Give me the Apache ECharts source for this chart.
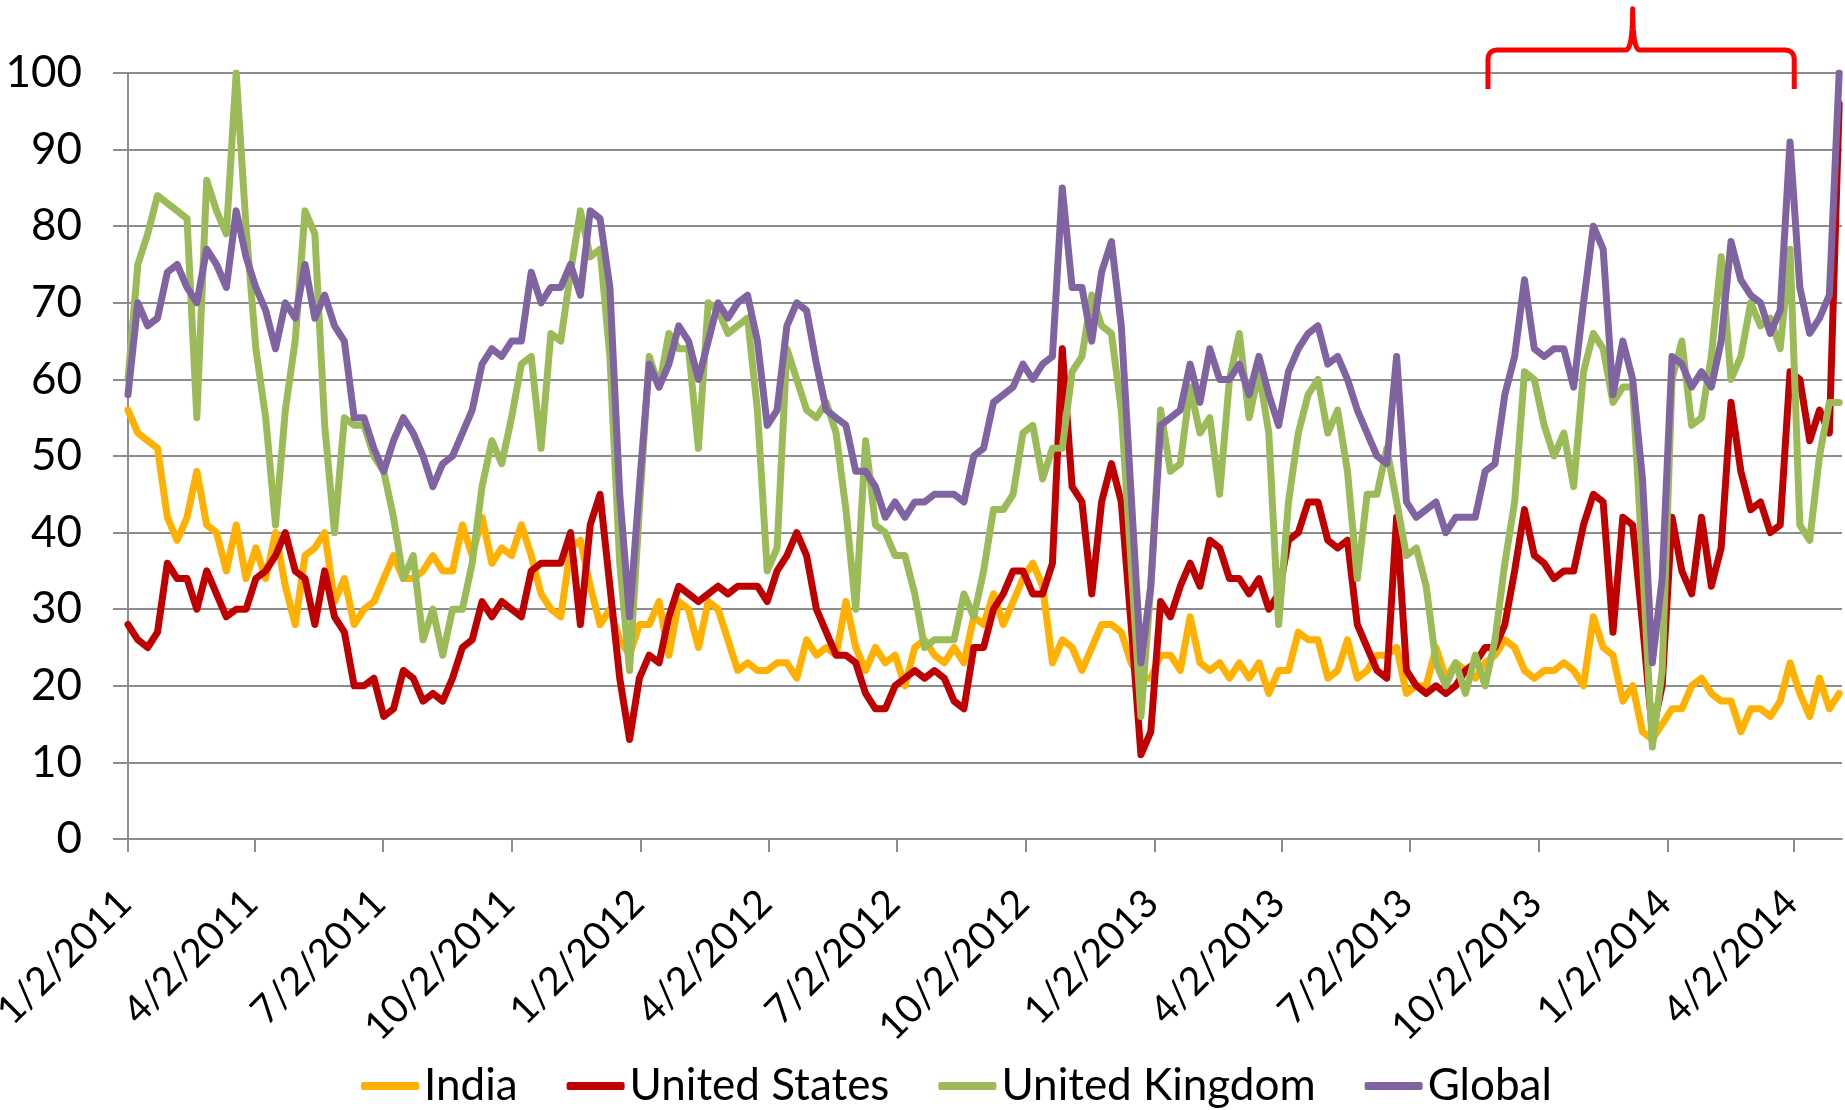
<!DOCTYPE html>
<html>
<head>
<meta charset="utf-8">
<script src="https://cdn.jsdelivr.net/npm/echarts@6/dist/echarts.min.js"></script>
<style>
  html, body { margin: 0; padding: 0; background: #fff; }
  #main { width: 1845px; height: 1110px; }
</style>
</head>
<body>
<div id="main"></div>
<script>
// weekly points, first week starts 1/2/2011
var startDate = '1/2/2011';
var tickDates = ['1/2/2011', '4/2/2011', '7/2/2011', '10/2/2011', '1/2/2012', '4/2/2012', '7/2/2012',
  '10/2/2012', '1/2/2013', '4/2/2013', '7/2/2013', '10/2/2013', '1/2/2014', '4/2/2014'];
var seriesNames = ['India', 'United States', 'United Kingdom', 'Global'];

var india = [
  56,53,52,51,42,39,42,48,41,40, 35,41,34,38,34,40,33,28,37,38, 40,31,34,28,30,31,34,37,34,34,
  35,37,35,35,41,37,42,36,38,37, 41,37,32,30,29,38,39,33,28,30, 26,24,28,28,31,24,31,30,25,
  31,30,26,22,23,22,22,23,23,21, 26,24,25,24,31,25,22,25,23,24, 20,25,26,24,23,25,23,29,28,
  32,28,31,34,36,33,23,26,25,22, 25,28,28,27,23,21,21,24,24,22, 29,23,22,23,21,23,21,23,19,
  22,22,27,26,26,21,22,26,21,22, 24,24,25,19,20,20,25,21,23,22, 21,23,24,26,25,22,21,22,22,
  23,22,20,29,25,24,18,20,14,13, 15,17,17,20,21,19,18,18,14,17, 17,16,18,23,19,16,21,17,19
];
var unitedStates = [
  28,26,25,27,36,34,34,30,35,32, 29,30,30,34,35,37,40,35,34,28, 35,29,27,20,20,21,16,17,22,21,
  18,19,18,21,25,26,31,29,31,30, 29,35,36,36,36,40,28,41,45,33, 21,13,21,24,23,29,33,32,31,
  32,33,32,33,33,33,31,35,37,40, 37,30,27,24,24,23,19,17,17,20, 21,22,21,22,21,18,17,25,25,
  30,32,35,35,32,32,36,64,46,44, 32,44,49,44,28,11,14,31,29,33, 36,33,39,38,34,34,32,34,30,
  32,39,40,44,44,39,38,39,28,25, 22,21,42,22,20,19,20,19,20,22, 23,25,25,28,35,43,37,36,34,
  35,35,41,45,44,27,42,41,28,14, 20,42,35,32,42,33,38,57,48,43, 44,40,41,61,60,52,56,53,96
];
var unitedKingdom = [
  60,75,79,84,83,82,81,55,86,82, 79,100,80,64,55,41,56,65,82,79, 54,40,55,54,54,50,48,42,34,37,
  26,30,24,30,30,36,46,52,49,55, 62,63,51,66,65,74,82,76,77,63, 36,22,43,63,59,66,64,64,51,
  70,69,66,67,68,56,35,38,64,60, 56,55,57,53,43,30,52,41,40,37, 37,32,25,26,26,26,32,29,35,
  43,43,45,53,54,47,51,51,61,63, 71,67,66,56,36,16,33,56,48,49, 59,53,55,45,60,66,55,61,53,
  28,44,53,58,60,53,56,48,34,45, 45,51,44,37,38,33,23,20,23,19, 24,20,26,36,44,61,60,54,50,
  53,46,61,66,64,57,59,59,36,12, 22,60,65,54,55,63,76,60,63,70, 67,68,64,77,41,39,50,57,57
];
var globalIdx = [
  58,70,67,68,74,75,72,70,77,75, 72,82,76,72,69,64,70,68,75,68, 71,67,65,55,55,51,48,52,55,53,
  50,46,49,50,53,56,62,64,63,65, 65,74,70,72,72,75,71,82,81,72, 45,29,46,62,59,62,67,65,60,
  65,70,68,70,71,65,54,56,67,70, 69,62,56,55,54,48,48,46,42,44, 42,44,44,45,45,45,44,50,51,
  57,58,59,62,60,62,63,85,72,72, 65,74,78,67,45,23,33,54,55,56, 62,57,64,60,60,62,58,63,58,
  54,61,64,66,67,62,63,60,56,53, 50,49,63,44,42,43,44,40,42,42, 42,48,49,58,63,73,64,63,64,
  64,59,70,80,77,58,65,60,47,23, 34,63,62,59,61,59,65,78,73,71, 70,66,69,91,72,66,68,71,100
];
var colors = ['#FFB000', '#C00000', '#9BBB59', '#8064A2'];

// 括号标注的位置（日期，数值）
var braceFrom = '8/27/2013', braceTip = '12/8/2013', braceTo = '4/2/2014';

var FONT = 'Lato, "Open Sans", sans-serif';
var DAY = 24 * 3600 * 1000;

function parseDate(s) {
  var p = s.split('/');
  return Date.UTC(+p[2], +p[0] - 1, +p[1]);
}
var t0 = parseDate(startDate);
function dayOf(s) { return Math.round((parseDate(s) - t0) / DAY); }
function dateLabel(d) {
  var t = new Date(t0 + d * DAY);
  return (t.getUTCMonth() + 1) + '/' + t.getUTCDate() + '/' + t.getUTCFullYear();
}
function toPairs(arr) {
  var out = [];
  for (var i = 0; i < arr.length; i++) out.push([i * 7, arr[i]]);
  return out;
}

var tickDays = tickDates.map(dayOf);
var allData = [india, unitedStates, unitedKingdom, globalIdx];

var chart = echarts.init(document.getElementById('main'));
var option = {
  animation: false,
  backgroundColor: '#fff',
  grid: { left: 128, right: 3, top: 73, bottom: 271, outerBoundsMode: 'none' },
  legend: {
    data: seriesNames,
    left: 356, top: 1056,
    icon: 'roundRect',
    itemWidth: 58, itemHeight: 8, itemGap: 49,
    textStyle: { fontFamily: FONT, fontSize: 44, color: '#000', lineHeight: 50 }
  },
  xAxis: {
    type: 'value',
    min: 0, max: 1220,
    splitLine: { show: false },
    axisLine: { lineStyle: { color: '#8c8c8c', width: 2 } },
    axisTick: { customValues: tickDays, length: 13, lineStyle: { color: '#8c8c8c', width: 2 } },
    axisLabel: {
      customValues: tickDays,
      rotate: 45, margin: 27,
      verticalAlign: 'top',
      padding: [0, 24, 0, 0],
      fontFamily: FONT, fontSize: 39, color: '#000',
      formatter: function (v) { return dateLabel(v); }
    }
  },
  yAxis: {
    type: 'value',
    min: 0, max: 100, interval: 10,
    axisLine: { show: true, lineStyle: { color: '#8c8c8c', width: 2 } },
    axisTick: { show: true, length: 15, lineStyle: { color: '#8c8c8c', width: 2 } },
    splitLine: { lineStyle: { color: '#8c8c8c', width: 2 } },
    axisLabel: { margin: 46, fontFamily: FONT, fontSize: 44, color: '#000' }
  },
  series: seriesNames.map(function (name, i) {
    return {
      name: name,
      type: 'line',
      data: toPairs(allData[i]),
      showSymbol: false,
      symbol: 'none',
      color: colors[i],
      lineStyle: { width: 7, color: colors[i], join: 'round', cap: 'round' },
      z: 2 + i
    };
  })
};
chart.setOption(option);

// 红色大括号（折线近似）
function px(d, v) { return chart.convertToPixel({ xAxisIndex: 0, yAxisIndex: 0 }, [d, v]); }
function quad(pts, p0, c, p1) {
  for (var k = 1; k <= 10; k++) {
    var t = k / 10, u = 1 - t;
    pts.push([u * u * p0[0] + 2 * u * t * c[0] + t * t * p1[0],
              u * u * p0[1] + 2 * u * t * c[1] + t * t * p1[1]]);
  }
}
var pA = px(dayOf(braceFrom), 97.9), pB = px(dayOf(braceFrom), 103);
var pT = px(dayOf(braceTip), 108.4), pC = px(dayOf(braceTo), 97.9);
var yb = pA[1], ybar = pB[1], ytip = pT[1];
var L = pA[0], R = pC[0], T = pT[0], r = 10, r2 = 7;
var pts = [[L, yb], [L, ybar + r]];
quad(pts, [L, ybar + r], [L, ybar], [L + r, ybar]);
pts.push([T - r2, ybar]);
quad(pts, [T - r2, ybar], [T, ybar], [T, ytip]);
quad(pts, [T, ytip], [T, ybar], [T + r2, ybar]);
pts.push([R - r, ybar]);
quad(pts, [R - r, ybar], [R, ybar], [R, ybar + r]);
pts.push([R, yb]);
chart.setOption({
  graphic: [{
    type: 'polyline',
    shape: { points: pts },
    style: { fill: null, stroke: '#FF0000', lineWidth: 5, lineJoin: 'round' },
    z: 100
  }]
});
</script>
</body>
</html>
